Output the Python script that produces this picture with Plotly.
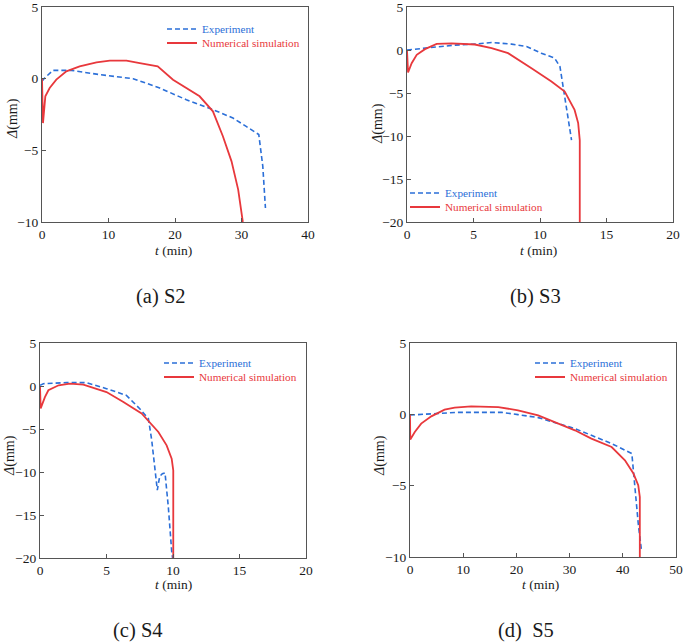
import plotly.graph_objects as go

# ---------------- data ----------------
# (a) S2
a_exp_t = [0, 0.3, 1.65, 4.4, 8.7, 13.7, 17.7, 21.7, 25.7, 28.7, 30.7, 32.6, 33.2, 33.6]
a_exp_d = [-0.19, 0.0, 0.58, 0.58, 0.28, 0.0, -0.65, -1.47, -2.16, -2.74, -3.33, -3.9, -6.1, -9.02]
a_num_t = [0, 0.15, 0.5, 1.15, 2.15, 3.66, 5.66, 8.2, 10.2, 12.7, 14.7, 17.4, 19.7, 21.7, 23.7, 25.7, 27.2, 28.5, 29.5, 30.2]
a_num_d = [0, -3.1, -1.23, -0.65, -0.07, 0.51, 0.86, 1.14, 1.26, 1.26, 1.09, 0.86, -0.07, -0.65, -1.23, -2.28, -4.02, -5.77, -7.74, -10.0]

# (b) S3
b_exp_t = [0, 1.6, 3.6, 5.36, 6.36, 7.86, 8.99, 10.1, 11.1, 11.5, 11.74, 11.99, 12.37]
b_exp_d = [0, 0.29, 0.57, 0.72, 0.88, 0.68, 0.41, -0.37, -0.95, -1.92, -4.25, -6.97, -10.47]
b_num_t = [0, 0.08, 0.35, 0.73, 1.35, 2.23, 3.35, 5.1, 6.36, 7.6, 9.36, 10.86, 11.86, 12.6, 12.87, 12.94, 12.99, 12.99]
b_num_d = [0, -2.62, -1.53, -0.56, 0.1, 0.72, 0.76, 0.64, 0.22, -0.37, -2.12, -3.67, -4.84, -6.97, -8.5, -10.2, -10.5, -20.0]

# (c) S4
c_exp_t = [0, 0.25, 2.0, 3.5, 5.0, 6.5, 7.5, 8.15, 8.4, 8.65, 8.82, 9.0, 9.2, 9.4, 9.65, 9.9, 9.97]
c_exp_d = [0.08, 0.27, 0.39, 0.39, -0.31, -1.09, -2.64, -3.8, -6.3, -10.2, -12.1, -10.5, -10.2, -10.1, -14.1, -19.2, -20.0]
c_num_t = [0, 0.05, 0.37, 0.63, 1.4, 2.25, 3.26, 5.0, 6.27, 7.64, 8.9, 9.52, 9.9, 10.02, 10.02]
c_num_d = [0, -2.6, -1.3, -0.5, 0.08, 0.27, 0.16, -0.7, -1.86, -3.2, -5.35, -6.9, -8.45, -9.8, -20.0]

# (d) S5
d_exp_t = [0, 4, 9, 14, 17.2, 20.3, 24.1, 27.9, 31, 34.1, 37.9, 41.7, 42.3, 42.9, 43.5]
d_exp_d = [-0.05, 0.05, 0.14, 0.14, 0.14, -0.02, -0.23, -0.65, -1.0, -1.47, -2.05, -2.75, -5.32, -7.65, -9.52]
d_num_t = [0, 0.05, 0.9, 2.1, 4, 6.5, 8.4, 11.5, 16.6, 20.3, 24.1, 27.9, 31, 34.1, 37.9, 40.4, 42, 42.9, 43.2, 43.2]
d_num_d = [0, -1.77, -1.24, -0.65, -0.14, 0.33, 0.47, 0.56, 0.51, 0.28, -0.07, -0.65, -1.12, -1.7, -2.29, -3.22, -4.15, -4.97, -5.79, -10.0]

x_ranges = [[0, 40], [0, 20], [0, 20], [0, 50]]
x_dtick = [10, 5, 5, 10]
y_ranges = [[-10, 5], [-20, 5], [-20, 5], [-10, 5]]
y_dtick = [5, 5, 5, 5]
captions = ["(a) S2", "(b) S3", "(c) S4", "(d)&nbsp; S5"]
series_names = ["Experiment", "Numerical simulation"]
x_title = "<i>t</i> (min)"
y_title = "<i>Δ</i>(mm)"

# ---------------- style ----------------
W, H = 685, 643
BLUE = "#2b6fd8"
RED = "#e8383c"
FONT = "Times New Roman, Liberation Serif, serif"
TXT = "#1a1a1a"

# plot boxes in pixels: left, right, top, bottom
boxes = [(42, 308, 7, 222), (407, 673, 7, 222), (40, 306, 343, 558), (410, 676, 343, 557)]
# legend: left x of legend box, centre y of row 1 and row 2
legend_pos = [(162, 29, 43), (405, 193, 207), (159, 363, 377), (530, 363, 377)]
caption_pos = [(161, 297), (535, 297), (138, 630), (526, 630)]
xtitle_pos = [(174, 251), (538, 251), (173, 584), (540, 584)]
ytitle_pos = [(13, 119), (378, 124), (10, 456), (380, 456)]

panels = [
    (a_exp_t, a_exp_d, a_num_t, a_num_d),
    (b_exp_t, b_exp_d, b_num_t, b_num_d),
    (c_exp_t, c_exp_d, c_num_t, c_num_d),
    (d_exp_t, d_exp_d, d_num_t, d_num_d),
]

fig = go.Figure()
layout = dict(
    width=W, height=H, margin=dict(l=0, r=0, t=0, b=0, autoexpand=False),
    paper_bgcolor="white", plot_bgcolor="white", showlegend=True,
    font=dict(family=FONT, size=14, color=TXT),
    annotations=[],
)


def ann(text, px, py, size, angle=0):
    return dict(text=text, x=px / W, y=1 - py / H, xref="paper", yref="paper",
                xanchor="center", yanchor="middle", showarrow=False, textangle=angle,
                font=dict(family=FONT, size=size, color=TXT))


for i, (et, ed, nt, nd) in enumerate(panels):
    k = "" if i == 0 else str(i + 1)
    xa, ya = "x" + k, "y" + k
    leg1 = "legend" + ("" if i == 0 else str(2 * i + 1))
    leg2 = "legend" + str(2 * i + 2)
    fig.add_trace(go.Scatter(
        x=et, y=ed, mode="lines", xaxis=xa, yaxis=ya, legend=leg1, showlegend=True,
        name=f"<span style='color:{BLUE}'>{series_names[0]}</span>",
        line=dict(color=BLUE, width=1.6, dash="5px,3px")))
    fig.add_trace(go.Scatter(
        x=nt, y=nd, mode="lines", xaxis=xa, yaxis=ya, legend=leg2, showlegend=True,
        name=f"<span style='color:{RED}'>{series_names[1]}</span>",
        line=dict(color=RED, width=1.8)))

    l, r, t, b = boxes[i]
    axis_common = dict(showline=True, mirror=True, linecolor="#555", linewidth=1,
                       ticks="inside", ticklen=4, tickcolor="#555", showgrid=False,
                       zeroline=False, automargin=False, ticklabeloverflow="allow",
                       tickfont=dict(family=FONT, size=13.5, color=TXT))
    layout["xaxis" + k] = dict(
        domain=[l / W, r / W], range=x_ranges[i], dtick=x_dtick[i], tick0=0,
        anchor=ya, **axis_common)
    layout["yaxis" + k] = dict(
        domain=[1 - b / H, 1 - t / H], range=y_ranges[i], dtick=y_dtick[i], tick0=0,
        anchor=xa, **axis_common)
    lx, ly1, ly2 = legend_pos[i]
    for leg, ly in ((leg1, ly1), (leg2, ly2)):
        layout[leg] = dict(
            x=lx / W, y=1 - ly / H, xanchor="left", yanchor="middle",
            bgcolor="rgba(0,0,0,0)", borderwidth=0, visible=True,
            font=dict(family=FONT, size=11.2), itemwidth=30)
    layout["annotations"].append(ann(captions[i], *caption_pos[i], 20.5))
    layout["annotations"].append(ann(x_title, *xtitle_pos[i], 13.5))
    layout["annotations"].append(ann(y_title, *ytitle_pos[i], 14, angle=-90))

fig.update_layout(**layout)
fig.write_html(
    "out.html",
    config={"displayModeBar": False},
    post_script="document.body.style.margin='0';document.body.style.padding='0';"
                "document.documentElement.style.overflow='hidden';",
)
